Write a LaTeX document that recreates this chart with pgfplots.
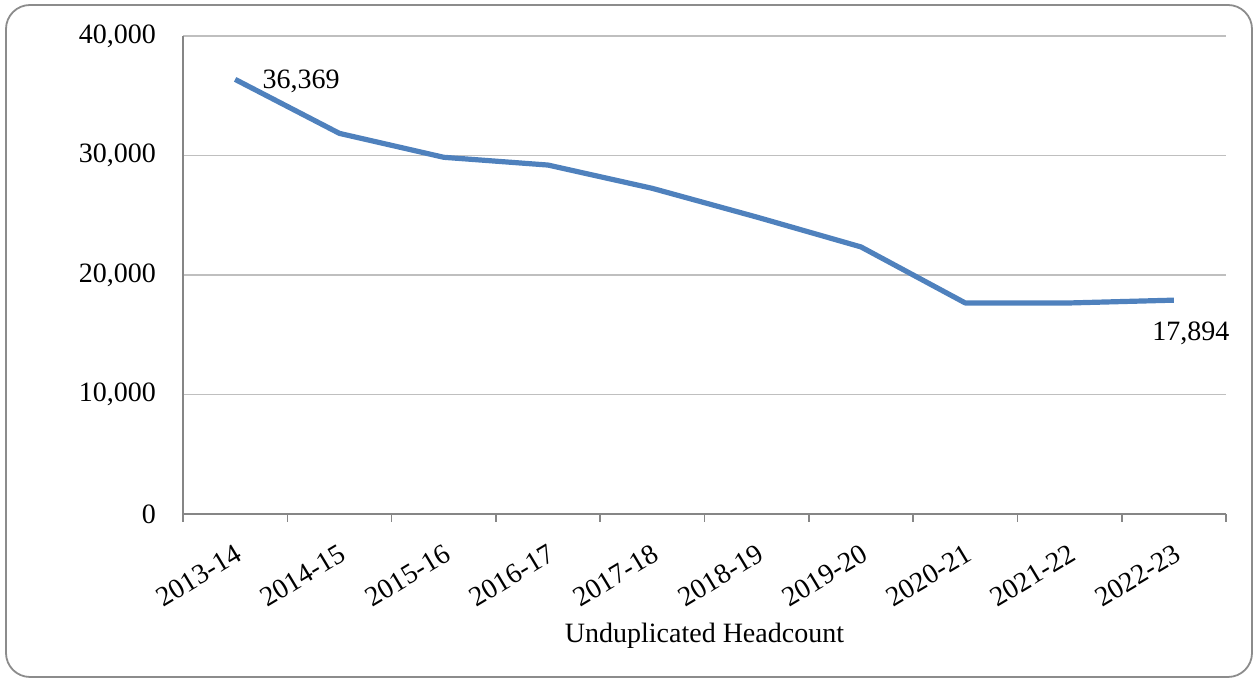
\documentclass[border=0pt]{standalone}
\usepackage{fontspec}
\setmainfont{Liberation Serif}
\usepackage{pgfplots}
\pgfplotsset{compat=1.18}

\definecolor{seriesblue}{HTML}{4F81BD}
\definecolor{axisgray}{HTML}{868686}
\definecolor{gridgray}{HTML}{BFBFBF}
\definecolor{framegray}{HTML}{8C8C8C}

\begin{document}
\begin{tikzpicture}
\fontsize{14}{16}\selectfont
\useasboundingbox (0,0) rectangle (627.5pt,339.5pt);
\draw[framegray, line width=0.9pt, rounded corners=12pt] (3pt,1pt) rectangle (626pt,337pt);

\begin{axis}[
  at={(91.5pt,82.5pt)}, anchor=south west,
  scale only axis,
  width=521.5pt, height=239pt,
  xmin=-0.5, xmax=9.5,
  ymin=0, ymax=40000,
  axis x line=bottom, axis y line=left,
  axis line style={axisgray, line width=0.8pt, -},
  xtick={0,...,9},
  xticklabels={2013-14,2014-15,2015-16,2016-17,2017-18,2018-19,2019-20,2020-21,2021-22,2022-23},
  major x tick style={draw=none},
  minor xtick={-0.5,0.5,...,9.5},
  minor x tick style={axisgray, line width=0.8pt},
  minor tick length=4pt,
  xtick align=outside,
  x tick label style={rotate=31, anchor=north east, inner sep=1pt,
    font=\fontsize{14}{16}\selectfont, xshift=-4.75pt, yshift=-7.5pt},
  ytick={0,10000,20000,30000,40000},
  major y tick style={draw=none},
  y tick label style={font=\fontsize{14}{16}\selectfont, xshift=-6.5pt},
  scaled y ticks=false,
  /pgf/number format/.cd, 1000 sep={,}, assume math mode=true,
  /pgfplots/.cd,
  ymajorgrids,
  grid style={gridgray, line width=0.8pt},
  xlabel={Unduplicated Headcount},
  xlabel style={at={(axis description cs:0.5,-0.255)}, anchor=center, font=\fontsize{14}{16}\selectfont},
  clip=false,
]
\addplot[seriesblue, line width=2.6pt, line join=round] coordinates {
  (0,36369) (1,31850) (2,29850) (3,29200) (4,27250)
  (5,24850) (6,22350) (7,17660) (8,17660) (9,17894)
};
\node[anchor=west, inner sep=2pt, font=\fontsize{14}{16}\selectfont] at (axis cs:0,36200) {\hspace{11.5pt}36,369};
\node[anchor=north, font=\fontsize{14}{16}\selectfont] at (axis cs:9,17894) [xshift=8.5pt, yshift=-6pt] {17,894};
\end{axis}
\end{tikzpicture}
\end{document}
